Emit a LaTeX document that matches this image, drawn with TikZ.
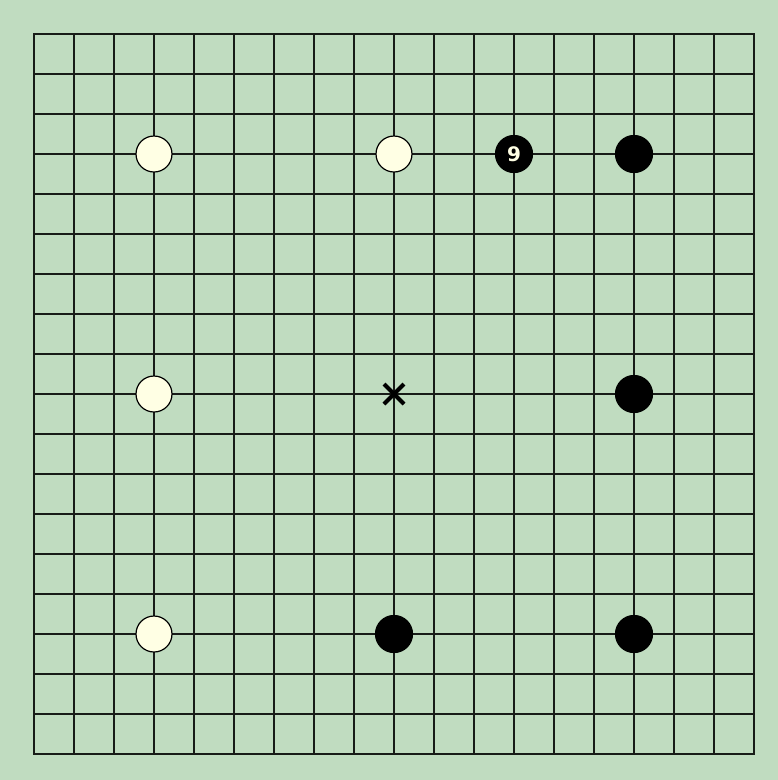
\documentclass[tikz,border=0pt]{standalone}
\usepackage{fontspec}
\setmainfont{DejaVu Sans}
\definecolor{board}{RGB}{192,220,192}
\definecolor{gridc}{RGB}{24,28,24}
\definecolor{whitestone}{RGB}{255,255,228}
\begin{document}
\begin{tikzpicture}[x=1pt,y=-1pt,
  wstone/.style={circle,draw=black,line width=1.2pt,fill=whitestone,minimum size=36pt,inner sep=0pt},
  bstone/.style={circle,draw=black,line width=1.2pt,fill=black,minimum size=37pt,inner sep=0pt,text=whitestone,font=\bfseries\fontsize{20}{20}\selectfont}]
\fill[board] (0,0) rectangle (778,780);
\useasboundingbox (0,0) rectangle (778,780);
\foreach \i in {0,...,18} {
  \draw[gridc,line width=1.6pt] (34+40*\i,34) -- (34+40*\i,754);
  \draw[gridc,line width=1.6pt] (34,34+40*\i) -- (754,34+40*\i);
}
\draw[gridc,line width=2pt] (34,34) rectangle (754,754);
% white stones
\node[wstone] (w1) at (154,154) {};
\node[wstone] (w2) at (394,154) {};
\node[wstone] (w3) at (154,394) {};
\node[wstone] (w4) at (154,634) {};
% black stones
\node[bstone] (b9) at (514,154) {9};
\node[bstone] (b2) at (634,154) {};
\node[bstone] (b3) at (634,394) {};
\node[bstone] (b4) at (394,634) {};
\node[bstone] (b5) at (634,634) {};
% X mark
\coordinate (x) at (394,394);
\draw[black,line width=4pt] ([shift={(-10,-10)}]x) -- ([shift={(10,10)}]x);
\draw[black,line width=4pt] ([shift={(-10,10)}]x) -- ([shift={(10,-10)}]x);
\end{tikzpicture}
\end{document}
